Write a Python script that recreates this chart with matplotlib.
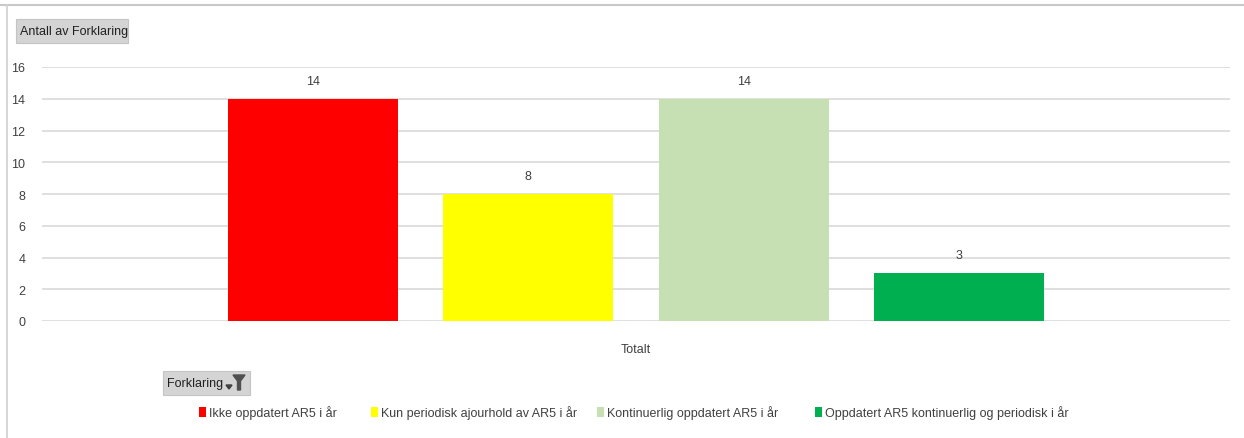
import matplotlib.pyplot as plt
from matplotlib.patches import Rectangle, Polygon
from matplotlib.lines import Line2D

# data
kategori = ["Totalt"]
serier = ["Ikke oppdatert AR5 i år",
          "Kun periodisk ajourhold av AR5 i år",
          "Kontinuerlig oppdatert AR5 i år",
          "Oppdatert AR5 kontinuerlig og periodisk i år"]
antall = [14, 8, 14, 3]
farger = ["#FF0000", "#FFFF00", "#C6E0B4", "#00B050"]
yticks = [0, 2, 4, 6, 8, 10, 12, 14, 16]

plt.rcParams['font.family'] = ['Liberation Sans', 'DejaVu Sans']

W, H = 1244, 439
fig = plt.figure(figsize=(W / 100, H / 100), dpi=100)
fig.patch.set_facecolor("white")

# plotteomraade i pikselkoordinater
x0, x1 = 42, 1230
ytop, ybot = 68, 322
ax = fig.add_axes([x0 / W, 1 - ybot / H, (x1 - x0) / W, (ybot - ytop) / H])

bredde = 0.143
steg = 0.1814
for i, (navn, verdi, farge) in enumerate(zip(serier, antall, farger)):
    xpos = (i - 1.5) * steg
    ax.bar(xpos, verdi, width=bredde, color=farge, zorder=3, label=navn)
    ax.text(xpos, verdi + 0.75, str(verdi), ha="center", va="bottom",
            fontsize=9, color="#404040")

ax.set_xlim(-0.5, 0.5)
ax.set_ylim(0, 16)
ax.set_yticks(yticks)
ax.set_xticks([0])
ax.set_xticklabels(kategori)
ax.tick_params(axis="y", length=0, pad=12, labelsize=9, labelcolor="#404040")
ax.tick_params(axis="x", length=0, pad=16, labelsize=9, labelcolor="#404040")
ax.grid(axis="y", color="#D9D9D9", linewidth=1.2, zorder=0)
for s in ax.spines.values():
    s.set_visible(False)

# ramme rundt diagrammet
fig.add_artist(Line2D([0, 1], [1 - 6 / H, 1 - 6 / H], color="#C8C8C8", lw=1.5))
fig.add_artist(Line2D([7 / W, 7 / W], [0, 1 - 6 / H], color="#D0D0D0", lw=1.2))

# feltknapper
def knapp(xa, ya, xb, yb, tekst):
    fig.add_artist(Rectangle((xa / W, 1 - yb / H), (xb - xa) / W, (yb - ya) / H,
                             transform=fig.transFigure, facecolor="#D4D4D4",
                             edgecolor="#C4C4C4", lw=0.8))
    fig.text((xa + 4) / W, 1 - (ya + yb) / 2 / H, tekst, ha="left", va="center",
             fontsize=9, color="#202020")

knapp(16, 20, 128, 44, "Antall av Forklaring")
knapp(163, 372, 250, 396, "Forklaring")
# lite filtersymbol
fig.add_artist(Polygon([[226 / W, 1 - 386 / H], [232 / W, 1 - 386 / H], [229 / W, 1 - 390 / H]],
                       closed=True, transform=fig.transFigure, color="#404040"))
fig.add_artist(Polygon([[233 / W, 1 - 376 / H], [245 / W, 1 - 376 / H], [240.5 / W, 1 - 382 / H],
                        [240.5 / W, 1 - 391 / H], [237.5 / W, 1 - 391 / H], [237.5 / W, 1 - 382 / H]],
                       closed=True, transform=fig.transFigure, color="#505050"))

# forklaring, plassert etter referansen
leg_x = [199, 371, 597, 815]
leg_y = 413
for xs, navn, farge in zip(leg_x, serier, farger):
    fig.add_artist(Rectangle((xs / W, 1 - (leg_y + 5) / H), 7 / W, 10 / H,
                             transform=fig.transFigure, facecolor=farge, lw=0))
    fig.text((xs + 10) / W, 1 - leg_y / H, navn, ha="left", va="center",
             fontsize=9, color="#404040")

fig.savefig("out.png", dpi=100)
